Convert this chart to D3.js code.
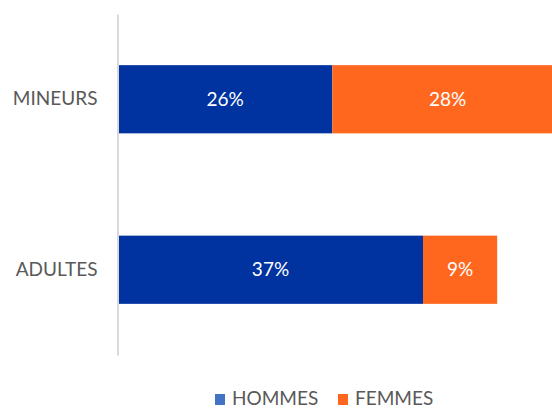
<!DOCTYPE html>
<html>
<head>
<meta charset="utf-8">
<script src="https://cdn.jsdelivr.net/npm/d3@7"></script>
<style>
  html, body { margin: 0; padding: 0; background: #fff; overflow: hidden; }
  svg { display: block; font-family: "Lato", "Open Sans", sans-serif; }
</style>
</head>
<body>
<svg id="chart" width="552" height="411"></svg>
<script>
// Share of each group by sex (percent)
const categories = ["MINEURS", "ADULTES"];
const seriesNames = ["HOMMES", "FEMMES"];
const hommes = [26, 37];
const femmes = [28, 9];

const barColors = { HOMMES: "#0033A0", FEMMES: "#FF671F" };
const legendColors = { HOMMES: "#4472C4", FEMMES: "#FF671F" };

const svg = d3.select("#chart");

const x = d3.scaleLinear().domain([0, 60]).range([118, 612.6]);
const y = d3.scaleBand().domain(categories).range([14, 355])
  .paddingInner(0.6).paddingOuter(0.3);

const rows = categories.map((c, i) => ({ category: c, HOMMES: hommes[i], FEMMES: femmes[i] }));
const stacked = d3.stack().keys(seriesNames)(rows);

// Bars
const layers = svg.append("g").selectAll("g")
  .data(stacked).join("g")
  .attr("fill", d => barColors[d.key]);

layers.selectAll("rect")
  .data(d => d.map(v => ({ key: d.key, v })))
  .join("rect")
  .attr("x", d => x(d.v[0]))
  .attr("y", d => y(d.v.data.category))
  .attr("width", d => x(d.v[1]) - x(d.v[0]))
  .attr("height", y.bandwidth());

// Value labels
layers.selectAll("text")
  .data(d => d.map(v => ({ key: d.key, v })))
  .join("text")
  .attr("x", d => (x(d.v[0]) + x(d.v[1])) / 2)
  .attr("y", d => y(d.v.data.category) + y.bandwidth() / 2)
  .attr("dy", "0.35em")
  .attr("text-anchor", "middle")
  .attr("fill", "#fff")
  .attr("font-size", 19)
  .text(d => (d.v[1] - d.v[0]) + "%");

// Category axis
const yAxis = svg.append("g")
  .attr("transform", "translate(117.5,0)")
  .call(d3.axisLeft(y).tickSize(0).tickPadding(20));
yAxis.select(".domain").attr("stroke", "#d9d9d9").attr("stroke-width", 2);
yAxis.selectAll("text")
  .attr("fill", "#595959")
  .attr("font-size", 19)
  .attr("font-family", "Lato, 'Open Sans', sans-serif");

// Legend
const legendX = { HOMMES: 215, FEMMES: 338 };
const legend = svg.append("g").selectAll("g")
  .data(seriesNames).join("g")
  .attr("transform", d => `translate(${legendX[d]},394)`);
legend.append("rect")
  .attr("width", 10).attr("height", 11)
  .attr("fill", d => legendColors[d]);
legend.append("text")
  .attr("x", 17).attr("y", 11)
  .attr("fill", "#595959")
  .attr("font-size", 19)
  .text(d => d);
</script>
</body>
</html>
